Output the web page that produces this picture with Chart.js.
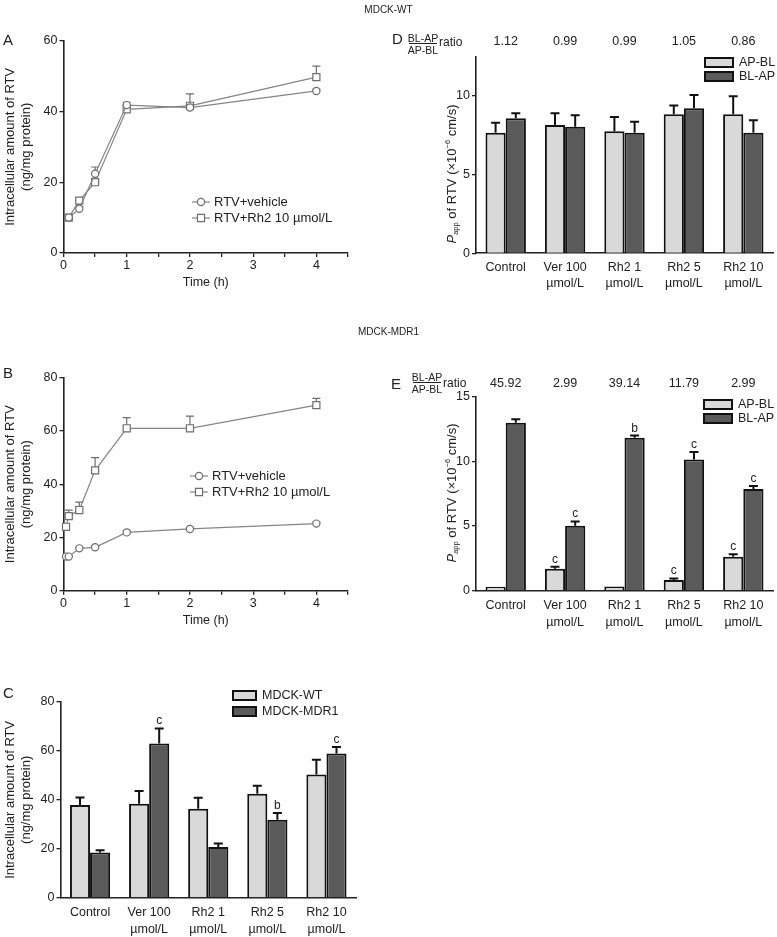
<!DOCTYPE html>
<html>
<head>
<meta charset="utf-8">
<script src="https://cdn.jsdelivr.net/npm/chart.js@4.4.1/dist/chart.umd.min.js"></script>
<style>
body { margin: 0; background: #fff; }
#page { position: relative; width: 777px; height: 937px; overflow: hidden; font-family: "Liberation Sans", Arial, sans-serif; color: #222; }
#page canvas { position: absolute; left: 0; top: 0; }
.t { position: absolute; white-space: nowrap; line-height: 1; }
.letter { font-size: 15px; }
.frac { position: absolute; width: 34px; text-align: center; font-size: 10.5px; line-height: 10px; white-space: nowrap; }
.bar { position: absolute; width: 28px; height: 0; border-top: 1px solid #222; }
</style>
</head>
<body>
<div id="page">
  <canvas id="chA" width="777" height="937"></canvas>
  <canvas id="chB" width="777" height="937"></canvas>
  <canvas id="chC" width="777" height="937"></canvas>
  <canvas id="chD" width="777" height="937"></canvas>
  <canvas id="chE" width="777" height="937"></canvas>

  <div class="t" style="left:0;width:777px;text-align:center;top:5px;font-size:10px;">MDCK-WT</div>
  <div class="t" style="left:0;width:777px;text-align:center;top:327px;font-size:10px;">MDCK-MDR1</div>

  <div class="t letter" style="left:3px;top:32px;">A</div>
  <div class="t letter" style="left:3px;top:365px;">B</div>
  <div class="t letter" style="left:3px;top:685px;">C</div>
  <div class="t letter" style="left:392px;top:31px;">D</div>
  <div class="t letter" style="left:391px;top:376px;">E</div>

  <!-- BL-AP / AP-BL ratio -->
  <div class="frac" style="left:406px;top:33px;">BL-AP</div>
  <div class="bar" style="left:409px;top:43px;"></div>
  <div class="frac" style="left:406px;top:44.5px;">AP-BL</div>
  <div class="t" style="left:439px;top:36px;font-size:12px;">ratio</div>

  <div class="frac" style="left:410px;top:372px;">BL-AP</div>
  <div class="bar" style="left:413px;top:382px;"></div>
  <div class="frac" style="left:410px;top:383.5px;">AP-BL</div>
  <div class="t" style="left:443px;top:377px;font-size:12px;">ratio</div>
</div>

<script>
// данные — панели A, B (кінетика)
const timeWT = [0.083, 0.25, 0.5, 1, 2, 4];
const wtVehicle = [10.0, 12.5, 22.4, 41.8, 41.1, 45.8];
const wtVehicleErr = [0.5, 0.6, 1.9, 0.8, 0.6, 0.5];
const wtRh2 = [10.0, 14.8, 20.0, 40.6, 41.6, 49.7];
const wtRh2Err = [0.6, 0.8, 0.9, 1.2, 3.4, 3.1];

const timeMDR = [0.04, 0.083, 0.25, 0.5, 1, 2, 4];
const mdrVehicle = [12.8, 12.8, 15.9, 16.3, 21.9, 23.2, 25.2];
const mdrVehicleErr = [0.4, 0.4, 0.5, 0.5, 0.6, 0.6, 0.7];
const mdrRh2 = [24.0, 28.0, 30.3, 45.2, 61.0, 61.0, 69.7];
const mdrRh2Err = [0, 2.3, 3.0, 4.8, 4.0, 4.6, 2.5];

// панель C
const groups = ['Control', ['Ver 100', 'µmol/L'], ['Rh2 1', 'µmol/L'], ['Rh2 5', 'µmol/L'], ['Rh2 10', 'µmol/L']];
const cWT = [37.9, 38.4, 36.4, 42.5, 50.4];
const cWTErr = [3.1, 5.2, 4.5, 3.3, 6.0];
const cMDR = [18.5, 63.0, 20.7, 31.9, 58.9];
const cMDRErr = [0.9, 6.2, 1.5, 2.7, 2.7];
const cMDRSig = ['', 'c', '', 'b', 'c'];

// панель D (MDCK-WT)
const dAPBL = [7.67, 8.16, 7.76, 8.84, 8.84];
const dAPBLErr = [0.63, 0.74, 0.91, 0.55, 1.14];
const dBLAP = [8.58, 8.05, 7.67, 9.22, 7.67];
const dBLAPErr = [0.32, 0.72, 0.70, 0.84, 0.79];
const dRatio = ['1.12', '0.99', '0.99', '1.05', '0.86'];

// панель E (MDCK-MDR1)
const eAPBL = [0.31, 1.70, 0.33, 0.82, 2.63];
const eAPBLErr = [0, 0.16, 0, 0.13, 0.18];
const eAPBLSig = ['', 'c', '', 'c', 'c'];
const eBLAP = [12.99, 5.03, 11.83, 10.15, 7.86];
const eBLAPErr = [0.26, 0.33, 0.17, 0.57, 0.23];
const eBLAPSig = ['', 'c', 'b', 'c', 'c'];
const eRatio = ['45.92', '2.99', '39.14', '11.79', '2.99'];

const FONT = '"Liberation Sans", Arial, sans-serif';
const LIGHT = '#d9d9d9';
const DARK = '#5a5a5a';
const INK = '#222';
Chart.defaults.font.family = FONT;
Chart.defaults.font.size = 12;
Chart.defaults.color = INK;

// ставимо область графіка в потрібне місце сторінки
function pad(area, yw, xh) {
    return { left: area.l - yw, top: area.t, right: 777 - area.r, bottom: 937 - area.b - xh };
}

const errorBars = {
    id: 'errorBars',
    draw(chart) {
        const ctx = chart.ctx;
        const y = chart.scales.y;
        chart.data.datasets.forEach((ds, di) => {
            if (!ds.err) return;
            const meta = chart.getDatasetMeta(di);
            meta.data.forEach((el, i) => {
                const d = ds.data[i];
                const v = typeof d === 'object' ? d.y : d;
                const e = ds.err[i];
                const top = y.getPixelForValue(v + e);
                ctx.save();
                ctx.strokeStyle = ds.errColor;
                ctx.lineWidth = ds.errWidth;
                if (e > 0) {
                    ctx.beginPath();
                    ctx.moveTo(el.x, el.y);
                    ctx.lineTo(el.x, top);
                    ctx.moveTo(el.x - ds.cap, top);
                    ctx.lineTo(el.x + ds.cap, top);
                    ctx.stroke();
                }
                if (ds.sig && ds.sig[i]) {
                    ctx.fillStyle = INK;
                    ctx.font = '12px ' + FONT;
                    ctx.textAlign = 'center';
                    ctx.textBaseline = 'alphabetic';
                    ctx.fillText(ds.sig[i], el.x, top - 4);
                }
                ctx.restore();
            });
        });
    },
    beforeDatasetsDraw(chart) { if (chart.config.type === 'line') this.draw(chart); },
    afterDatasetsDraw(chart) { if (chart.config.type === 'bar') this.draw(chart); }
};

const lineLegend = {
    id: 'lineLegend',
    afterDraw(chart, args, o) {
        const ctx = chart.ctx;
        chart.data.datasets.forEach((ds, i) => {
            const y = o.y + i * o.gap;
            ctx.save();
            ctx.strokeStyle = ds.borderColor;
            ctx.lineWidth = ds.borderWidth;
            ctx.beginPath();
            ctx.moveTo(o.x, y);
            ctx.lineTo(o.x + o.w, y);
            ctx.stroke();
            ctx.fillStyle = '#fff';
            ctx.strokeStyle = ds.pointBorderColor;
            ctx.lineWidth = ds.pointBorderWidth;
            Chart.helpers.drawPoint(ctx, { pointStyle: ds.pointStyle, radius: ds.pointRadius, borderWidth: ds.pointBorderWidth, rotation: 0 }, o.x + o.w / 2, y);
            ctx.fillStyle = INK;
            ctx.font = '13px ' + FONT;
            ctx.textBaseline = 'middle';
            ctx.fillText(ds.label, o.x + o.w + 4, y + 0.5);
            ctx.restore();
        });
    }
};

const barLegend = {
    id: 'barLegend',
    afterDraw(chart, args, o) {
        const ctx = chart.ctx;
        chart.data.datasets.forEach((ds, i) => {
            const y = o.y + i * o.gap;
            ctx.save();
            ctx.fillStyle = ds.backgroundColor;
            ctx.fillRect(o.x, y, o.w, o.h);
            ctx.lineWidth = 2;
            ctx.strokeStyle = '#111';
            ctx.strokeRect(o.x, y, o.w, o.h);
            ctx.fillStyle = INK;
            ctx.font = '12.5px ' + FONT;
            ctx.textBaseline = 'middle';
            ctx.fillText(ds.label, o.x + o.w + 6, y + o.h / 2 + 0.5);
            ctx.restore();
        });
    }
};

// рядок з коефіцієнтами над групами
const ratioRow = {
    id: 'ratioRow',
    afterDraw(chart, args, o) {
        if (!o.values) return;
        const ctx = chart.ctx;
        ctx.save();
        ctx.fillStyle = INK;
        ctx.font = '12.5px ' + FONT;
        ctx.textAlign = 'center';
        ctx.textBaseline = 'middle';
        o.values.forEach((v, i) => ctx.fillText(v, chart.scales.x.getPixelForValue(i), o.y));
        ctx.restore();
    }
};

// підпис осі Papp з курсивом і індексами
const pappTitle = {
    id: 'pappTitle',
    afterDraw(chart, args, o) {
        if (!o.x) return;
        const ctx = chart.ctx;
        const parts = [
            { t: 'P', f: 'italic 13px ' + FONT, dy: 4.5 },
            { t: 'app', f: '7.5px ' + FONT, dy: 7 },
            { t: ' of RTV (×10', f: '13px ' + FONT, dy: 4.5 },
            { t: '−6', f: '7.5px ' + FONT, dy: -1 },
            { t: ' cm/s)', f: '13px ' + FONT, dy: 4.5 }
        ];
        ctx.save();
        ctx.translate(o.x, o.y);
        ctx.rotate(-Math.PI / 2);
        let total = 0;
        parts.forEach(p => { ctx.font = p.f; p.w = ctx.measureText(p.t).width; total += p.w; });
        let x = -total / 2;
        ctx.fillStyle = INK;
        ctx.textBaseline = 'alphabetic';
        parts.forEach(p => { ctx.font = p.f; ctx.fillText(p.t, x, p.dy); x += p.w; });
        ctx.restore();
    }
};

function axisY(max, step, yw, title) {
    return {
        min: 0, max: max,
        ticks: { stepSize: step, padding: 2, includeBounds: false, font: { size: 12.5 } },
        grid: { drawOnChartArea: false, color: INK, tickLength: 4, lineWidth: 1.3 },
        border: { color: INK, width: 1.6 },
        title: title ? { display: true, text: title, font: { size: 13, lineHeight: 1.3 }, padding: { top: 1, bottom: 0 } } : { display: false },
        afterFit: s => { s.width = yw; }
    };
}

function timeChart(id, area, times, veh, vehErr, rh2, rh2Err, ymax, leg) {
    const pts = arr => times.map((t, i) => ({ x: t, y: arr[i] }));
    new Chart(document.getElementById(id), {
        type: 'line',
        data: {
            datasets: [{
                label: 'RTV+vehicle',
                data: pts(veh), err: vehErr,
                borderColor: '#858585', borderWidth: 1.2,
                pointStyle: 'circle', pointRadius: 3.6,
                pointBackgroundColor: '#fff', pointBorderColor: '#6e6e6e', pointBorderWidth: 1.2,
                errColor: '#6e6e6e', errWidth: 1.2, cap: 4, clip: false
            }, {
                label: 'RTV+Rh2 10 µmol/L',
                data: pts(rh2), err: rh2Err,
                borderColor: '#858585', borderWidth: 1.2,
                pointStyle: 'rect', pointRadius: 5,
                pointBackgroundColor: '#fff', pointBorderColor: '#6e6e6e', pointBorderWidth: 1.2,
                errColor: '#6e6e6e', errWidth: 1.2, cap: 4, clip: false
            }]
        },
        options: {
            responsive: false,
            animation: false,
            layout: { padding: pad(area, 63, 38) },
            plugins: { legend: { display: false }, tooltip: { enabled: false }, lineLegend: leg },
            scales: {
                x: {
                    type: 'linear', min: 0, max: 4.5,
                    ticks: { stepSize: 0.5, autoSkip: false, maxRotation: 0, padding: 1, font: { size: 12.5 },
                        callback: v => Number.isInteger(v) ? v : '' },
                    grid: { drawOnChartArea: false, color: INK, tickLength: 4, lineWidth: 1.3 },
                    border: { color: INK, width: 1.6 },
                    title: { display: true, text: 'Time (h)', font: { size: 12.5 }, padding: { top: 0, bottom: 1 } },
                    afterFit: s => { s.height = 38; }
                },
                y: axisY(ymax, 20, 63, ['Intracellular amount of RTV', '(ng/mg protein)'])
            }
        },
        plugins: [errorBars, lineLegend]
    });
}

function barSet(label, color, vals, err, sig) {
    return {
        label: label, data: vals, err: err, sig: sig,
        backgroundColor: color, borderColor: '#111', borderWidth: 2,
        barPercentage: 1, categoryPercentage: 0.68,
        errColor: '#111', errWidth: 2, cap: 4.5
    };
}

function barChart(id, area, sets, ymax, step, yTitle, xPad, extra) {
    new Chart(document.getElementById(id), {
        type: 'bar',
        data: { labels: groups, datasets: sets },
        options: {
            responsive: false,
            animation: false,
            layout: { padding: pad(area, 60, 40) },
            plugins: Object.assign({ legend: { display: false }, tooltip: { enabled: false } }, extra),
            scales: {
                x: {
                    ticks: { padding: xPad, maxRotation: 0, autoSkip: false, font: { size: 12.5, lineHeight: 1.3 } },
                    grid: { display: false, drawTicks: false },
                    border: { color: INK, width: 1.6 },
                    afterFit: s => { s.height = 40; }
                },
                y: axisY(ymax, step, 60, yTitle)
            }
        },
        plugins: [errorBars, barLegend, ratioRow, pappTitle]
    });
}

timeChart('chA', { l: 63.5, r: 348, t: 40.7, b: 253 }, timeWT, wtVehicle, wtVehicleErr, wtRh2, wtRh2Err, 60,
    { x: 192, y: 202, gap: 16, w: 18 });
timeChart('chB', { l: 63.5, r: 348, t: 377.7, b: 590.7 }, timeMDR, mdrVehicle, mdrVehicleErr, mdrRh2, mdrRh2Err, 80,
    { x: 190, y: 476, gap: 16, w: 18 });

barChart('chC', { l: 60.5, r: 356, t: 702, b: 897.7 },
    [barSet('MDCK-WT', LIGHT, cWT, cWTErr), barSet('MDCK-MDR1', DARK, cMDR, cMDRErr, cMDRSig)],
    80, 20, ['Intracellular amount of RTV', '(ng/mg protein)'], 7,
    { barLegend: { x: 233, y: 691, w: 23, h: 9, gap: 16 } });

barChart('chD', { l: 476, r: 773, t: 56.7, b: 253.3 },
    [barSet('AP-BL', LIGHT, dAPBL, dAPBLErr), barSet('BL-AP', DARK, dBLAP, dBLAPErr)],
    12.5, 5, null, 6,
    { barLegend: { x: 705, y: 58, w: 28, h: 9, gap: 14 }, ratioRow: { values: dRatio, y: 42 }, pappTitle: { x: 451, y: 174 } });

barChart('chE', { l: 476, r: 773, t: 396.7, b: 590.7 },
    [barSet('AP-BL', LIGHT, eAPBL, eAPBLErr, eAPBLSig), barSet('BL-AP', DARK, eBLAP, eBLAPErr, eBLAPSig)],
    15, 5, null, 7,
    { barLegend: { x: 704, y: 400, w: 28, h: 9, gap: 14 }, ratioRow: { values: eRatio, y: 383.5 }, pappTitle: { x: 451, y: 493 } });
</script>
</body>
</html>
